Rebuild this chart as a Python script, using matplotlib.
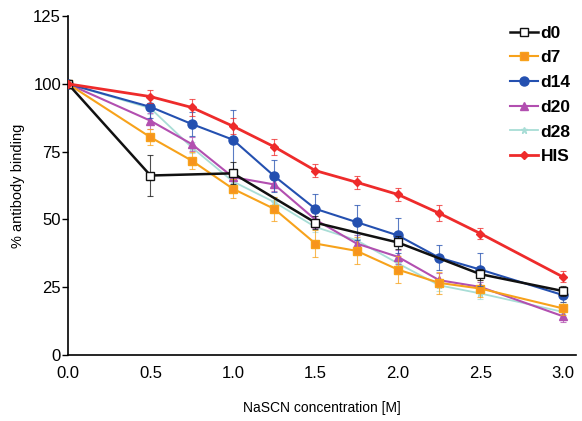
import matplotlib
matplotlib.use("Agg")
import matplotlib.pyplot as plt

plt.rcParams['font.family'] = ['Liberation Sans', 'DejaVu Sans']

# NaSCN concentration steps (M)
conc = [0, 0.5, 0.75, 1.0, 1.25, 1.5, 1.75, 2.0, 2.25, 2.5, 3.0]
conc_d0 = [0, 0.5, 1.0, 1.5, 2.0, 2.5, 3.0]

# % antibody binding (mean) and error
d0 = [100, 66.2, 67.0, 48.8, 41.5, 29.8, 23.6]
d0_err = [0, 7.7, 4, 2.5, 2.5, 2, 2]

d7 = [100, 80.3, 71.7, 61.3, 53.9, 41.1, 38.4, 31.5, 26.6, 24.5, 17.2]
d7_err = [0, 3, 3, 3.5, 4.5, 5, 5, 5, 4, 3, 2.5]

d14 = [100, 91.5, 85.2, 79.4, 66.0, 53.9, 49.0, 44.1, 35.9, 31.5, 22.1]
d14_err = [0, 4, 4.5, 11, 6, 5.5, 6.5, 6.5, 4.5, 6, 2.5]

d20 = [100, 86.4, 77.8, 65.6, 62.9, 49.9, 41.1, 36.2, 27.6, 25.1, 14.3]
d20_err = [0, 3, 2.5, 3, 2.5, 3, 3, 2.5, 2.5, 2, 2]

d28 = [100, 91.0, 76.6, 64.0, 56.4, 47.2, 42.3, 33.8, 25.7, 22.7, 15.9]
d28_err = [0, 2, 2, 2, 2, 2, 2, 2, 2, 2, 2]

his = [100, 95.3, 91.3, 84.4, 76.8, 68.0, 63.7, 59.2, 52.3, 44.8, 28.8]
his_err = [0, 2.5, 3, 3, 3, 2.5, 2.5, 2.5, 3, 2, 2]

fig = plt.figure(figsize=(5.82, 4.21), dpi=100)
ax = fig.add_axes([0.1168, 0.1568, 0.873, 0.805])

series = [
    ("d28", conc, d28, d28_err, "#a8ddd6", "*", 5, "#a8ddd6", 1.3, 2),
    ("d20", conc, d20, d20_err, "#b24fb0", "^", 6, "#b24fb0", 1.5, 3),
    ("d7", conc, d7, d7_err, "#f7a21b", "s", 6, "#f7941d", 1.5, 4),
    ("d14", conc, d14, d14_err, "#2450b0", "o", 6.5, "#2450b0", 1.5, 5),
    ("d0", conc_d0, d0, d0_err, "#111111", "s", 6, "white", 1.8, 6),
    ("HIS", conc, his, his_err, "#ee2b2b", "D", 4, "#ee2b2b", 2.0, 7),
]

handles = {}
for name, x, y, e, col, mk, ms, mfc, lw, z in series:
    ax.errorbar(x, y, yerr=e, fmt="none", ecolor=col, elinewidth=0.8,
                capsize=2.5, capthick=0.8, alpha=0.75, zorder=z)
    h, = ax.plot(x, y, color=col, lw=lw, marker=mk, ms=ms, mfc=mfc,
                 mec=col, mew=1.0, zorder=z + 0.5, label=name)
    handles[name] = h

order = ["d0", "d7", "d14", "d20", "d28", "HIS"]
leg = ax.legend([handles[n] for n in order], order, loc="upper right",
                bbox_to_anchor=(1.02, 1.018), frameon=False, handlelength=1.6,
                handletextpad=0.15, labelspacing=0.55,
                prop={"weight": "bold", "size": 12.5})

ax.set_xlim(0, 3.08)
ax.set_ylim(0, 125)
ax.set_xticks([0, 0.5, 1.0, 1.5, 2.0, 2.5, 3.0])
ax.set_xticklabels(["0.0", "0.5", "1.0", "1.5", "2.0", "2.5", "3.0"])
ax.set_yticks([0, 25, 50, 75, 100, 125])
ax.tick_params(axis="y", direction="out", length=4, width=1, labelsize=12, pad=1)
ax.tick_params(axis="x", length=0, labelsize=12, pad=8)
for s in ("top", "right"):
    ax.spines[s].set_visible(False)
ax.spines["left"].set_linewidth(1.2)
ax.spines["bottom"].set_linewidth(1.2)

ax.set_xlabel("NaSCN concentration [M]", fontsize=10, labelpad=14)
ax.set_ylabel("% antibody binding", fontsize=10.5, labelpad=6)

fig.savefig("out.png", dpi=100)
